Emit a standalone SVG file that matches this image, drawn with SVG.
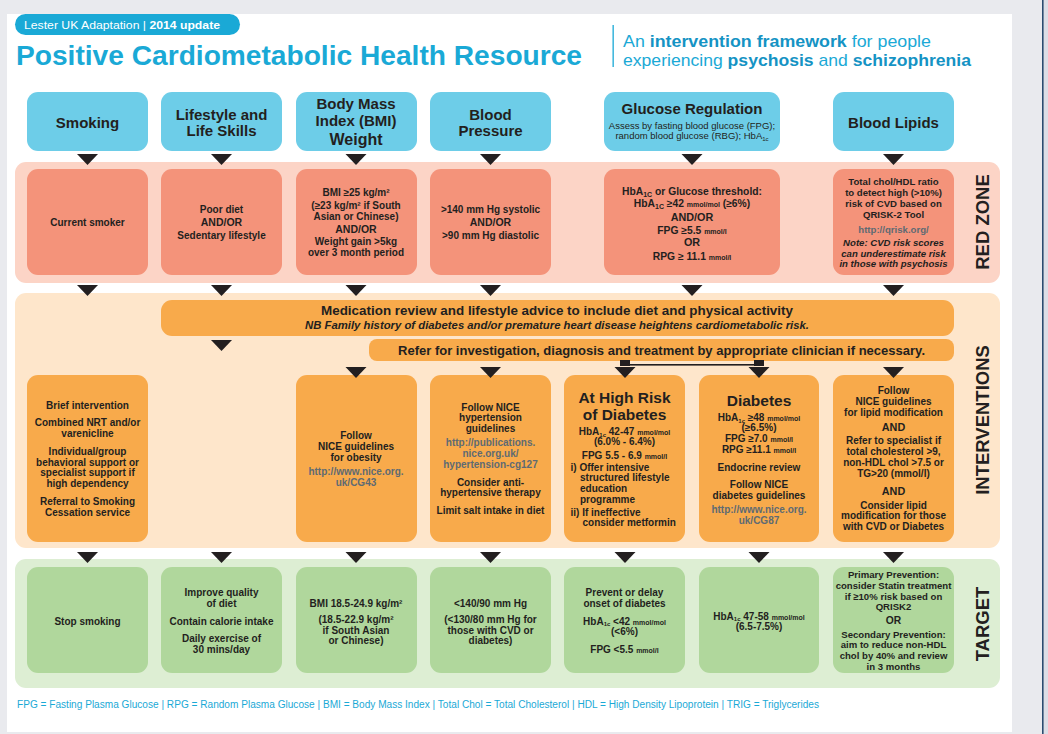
<svg xmlns="http://www.w3.org/2000/svg" width="1048" height="734" viewBox="0 0 1048 734">
<defs>
<style>
text{font-family:"Liberation Sans",Arial,sans-serif;fill:#231f20;font-weight:bold;text-anchor:middle}
.h{font-size:15px}
.s{font-size:10px}
.s9{font-size:9.6px}
.m{font-size:7px}
.u{font-size:6px}
.lk{fill:#5e6a73}
.lab{font-size:18.5px}
.hdr{fill:#6dcde8}
.rb{fill:#f4937a}
.ob{fill:#f8aa4b}
.gb{fill:#b0d79c}
.cy{fill:#1aa9d6}
</style>
<path id="tri" d="M-10.5,0 H10.5 L0,11 Z" fill="#231f20"/>
</defs>
<rect width="1048" height="734" fill="#e9eaee"/>
<rect x="1043.5" y="0" width="4.5" height="734" fill="#dcdee6"/>
<rect x="1042" y="0" width="1.6" height="734" fill="#2b4c70"/>
<rect x="7" y="14" width="1005" height="718" fill="#fff"/>

<g id="title">
<rect x="15" y="14" width="225" height="21" rx="10.5" fill="#1aa9d6"/>
<text x="24" y="29" style="font-size:11px;fill:#fff;text-anchor:start" textLength="196" lengthAdjust="spacingAndGlyphs"><tspan font-weight="normal" style="fill:#fff">Lester UK Adaptation | </tspan>2014 update</text>
<text x="16" y="64.5" class="cy" style="font-size:27px;text-anchor:start" textLength="566" lengthAdjust="spacingAndGlyphs">Positive Cardiometabolic Health Resource</text>
<rect x="612.5" y="25" width="1.3" height="42" fill="#1aa9d6"/>
<text x="623" y="46.5" style="font-size:17px;font-weight:normal;fill:#1aa9d6;text-anchor:start" textLength="308" lengthAdjust="spacingAndGlyphs">An <tspan font-weight="bold" style="fill:#1593c4">intervention framework</tspan> for people</text>
<text x="623" y="66" style="font-size:17px;font-weight:normal;fill:#1aa9d6;text-anchor:start" textLength="348" lengthAdjust="spacingAndGlyphs">experiencing <tspan font-weight="bold" style="fill:#1593c4">psychosis</tspan> and <tspan font-weight="bold" style="fill:#1593c4">schizophrenia</tspan></text>
</g>

<g id="bands">
<rect x="15" y="162" width="985" height="121" rx="11" fill="#fcd4c6"/>
<rect x="15" y="293" width="985" height="255" rx="11" fill="#fee6cb"/>
<rect x="15" y="559" width="985" height="129" rx="11" fill="#ddeed3"/>
<text transform="translate(988.5,222) rotate(-90)" class="lab">RED ZONE</text>
<text transform="translate(988.5,420) rotate(-90)" class="lab">INTERVENTIONS</text>
<text transform="translate(988.5,624) rotate(-90)" class="lab">TARGET</text>
</g>

<g id="header-smoking"><rect class="hdr" x="27" y="92" width="121" height="59" rx="11"/><text class="h" x="87.5" y="127.5">Smoking</text></g>
<g id="header-lifestyle"><rect class="hdr" x="161" y="92" width="121" height="59" rx="11"/><text class="h" x="221.5" y="120.3">Lifestyle and</text><text class="h" x="221.5" y="136">Life Skills</text></g>
<g id="header-bmi"><rect class="hdr" x="296" y="92" width="121" height="59" rx="11"/><text class="h" x="356" y="109.3">Body Mass</text><text class="h" x="356" y="126">Index (BMI)</text><text x="356" y="144.5" style="font-size:16px">Weight</text></g>
<g id="header-bp"><rect class="hdr" x="430" y="92" width="121" height="59" rx="11"/><text class="h" x="490.5" y="120.3">Blood</text><text class="h" x="490.5" y="136">Pressure</text></g>
<g id="header-glucose"><rect class="hdr" x="604" y="92" width="176" height="59" rx="11"/><text class="h" x="692" y="114.3">Glucose Regulation</text><text x="692" y="129.2" style="font-size:9.5px;font-weight:normal">Assess by fasting blood glucose (FPG);</text><text x="692" y="139.2" style="font-size:9.5px;font-weight:normal">random blood glucose (RBG); HbA<tspan class="u" dy="1.5">1c</tspan></text></g>
<g id="header-lipids"><rect class="hdr" x="833" y="92" width="121" height="59" rx="11"/><text class="h" x="893.5" y="128">Blood Lipids</text></g>

<g id="red-smoking"><rect class="rb" x="27" y="169" width="121" height="106" rx="11"/><text class="s" x="87.5" y="225.5">Current smoker</text></g>
<g id="red-lifestyle"><rect class="rb" x="161" y="169" width="121" height="106" rx="11"/><text class="s" x="221.5" y="212.5">Poor diet</text><text x="221.5" y="225.8" style="font-size:10.5px">AND/OR</text><text class="s" x="221.5" y="239.2">Sedentary lifestyle</text></g>
<g id="red-bmi"><rect class="rb" x="296" y="169" width="121" height="106" rx="11"/><text class="s" x="356" y="196.2">BMI ≥25 kg/m²</text><text class="s" x="356" y="209.2">(≥23 kg/m² if South</text><text class="s" x="356" y="219.9">Asian or Chinese)</text><text x="356" y="232.5" style="font-size:10.5px">AND/OR</text><text class="s" x="356" y="244.6">Weight gain &gt;5kg</text><text class="s" x="356" y="255.9">over 3 month period</text></g>
<g id="red-bp"><rect class="rb" x="430" y="169" width="121" height="106" rx="11"/><text class="s" x="490.5" y="213.2">&gt;140 mm Hg systolic</text><text x="490.5" y="226" style="font-size:10.5px">AND/OR</text><text class="s" x="490.5" y="239.2">&gt;90 mm Hg diastolic</text></g>
<g id="red-glucose"><rect class="rb" x="604" y="169" width="176" height="106" rx="11"/>
<text x="692" y="195.4" style="font-size:10.3px">HbA<tspan class="m" dy="1.5">1C</tspan><tspan dy="-1.5"> or Glucose threshold:</tspan></text>
<text x="692" y="207.4" style="font-size:10.3px">HbA<tspan class="m" dy="1.5">1C</tspan><tspan dy="-1.5"> ≥42 </tspan><tspan class="m">mmol/mol</tspan> (≥6%)</text>
<text x="692" y="220.6" style="font-size:10.8px">AND/OR</text>
<text x="692" y="233.6" style="font-size:10.3px">FPG ≥5.5 <tspan class="m">mmol/l</tspan></text>
<text x="692" y="246.1" style="font-size:10.8px">OR</text>
<text x="692" y="259.6" style="font-size:10.3px">RPG ≥ 11.1 <tspan class="m">mmol/l</tspan></text></g>
<g id="red-lipids"><rect class="rb" x="833" y="169" width="121" height="106" rx="11"/>
<text class="s9" x="893.5" y="185">Total chol/HDL ratio</text><text class="s9" x="893.5" y="195.6">to detect high (&gt;10%)</text><text class="s9" x="893.5" y="207">risk of CVD based on</text><text class="s9" x="893.5" y="217.7">QRISK-2 Tool</text>
<text class="s9 lk" x="893.5" y="232.5">http://qrisk.org/</text>
<text class="s9" x="893.5" y="246" font-style="italic">Note: CVD risk scores</text><text class="s9" x="893.5" y="256.7" font-style="italic">can underestimate risk</text><text class="s9" x="893.5" y="267" font-style="italic">in those with psychosis</text></g>

<g id="bar-medication"><rect class="ob" x="161" y="300" width="793" height="36" rx="11"/>
<text x="557" y="314.8" style="font-size:13.5px" textLength="472" lengthAdjust="spacingAndGlyphs">Medication review and lifestyle advice to include diet and physical activity</text>
<text x="557" y="328.7" style="font-size:10.5px" font-style="italic" textLength="504" lengthAdjust="spacingAndGlyphs">NB<tspan font-weight="bold"> Family history of diabetes and/or premature heart disease heightens cardiometabolic risk.</tspan></text></g>
<g id="bar-refer"><rect class="ob" x="369" y="339" width="585" height="22" rx="8"/>
<text x="661.5" y="354.6" style="font-size:13px" textLength="527" lengthAdjust="spacingAndGlyphs">Refer for investigation, diagnosis and treatment by appropriate clinician if necessary.</text></g>

<g id="int-smoking"><rect class="ob" x="27" y="375" width="121" height="167" rx="11"/>
<text class="s" x="87.5" y="409.2">Brief intervention</text>
<text class="s" x="87.5" y="425.9">Combined NRT and/or</text><text class="s" x="87.5" y="436.9">varenicline</text>
<text class="s" x="87.5" y="455.2">Individual/group</text><text class="s" x="87.5" y="465.9">behavioral support or</text><text class="s" x="87.5" y="476.2">specialist support if</text><text class="s" x="87.5" y="487.2">high dependency</text>
<text class="s" x="87.5" y="505.2">Referral to Smoking</text><text class="s" x="87.5" y="516.2">Cessation service</text></g>
<g id="int-bmi"><rect class="ob" x="296" y="375" width="121" height="167" rx="11"/>
<text class="s" x="356" y="439.2">Follow</text><text class="s" x="356" y="450.2">NICE guidelines</text><text class="s" x="356" y="460.9">for obesity</text>
<text class="s lk" x="356" y="475.2">http://www.nice.org.</text><text class="s lk" x="356" y="486.2">uk/CG43</text></g>
<g id="int-bp"><rect class="ob" x="430" y="375" width="121" height="167" rx="11"/>
<text class="s" x="490.5" y="410.9">Follow NICE</text><text class="s" x="490.5" y="421.2">hypertension</text><text class="s" x="490.5" y="432.2">guidelines</text>
<text class="s lk" x="490.5" y="445.9">http://publications.</text><text class="s lk" x="490.5" y="456.9">nice.org.uk/</text><text class="s lk" x="490.5" y="467.9">hypertension-cg127</text>
<text class="s" x="490.5" y="485.9">Consider anti-</text><text class="s" x="490.5" y="496.2">hypertensive therapy</text>
<text class="s" x="490.5" y="514.2">Limit salt intake in diet</text></g>
<g id="int-highrisk"><rect class="ob" x="564" y="375" width="121" height="167" rx="11"/>
<text x="624.5" y="403.3" style="font-size:15.5px">At High Risk</text><text x="624.5" y="419.5" style="font-size:15.5px">of Diabetes</text>
<text class="s" x="624.5" y="435.2">HbA<tspan class="u" dy="1.5">1c</tspan><tspan dy="-1.5"> 42-47 </tspan><tspan class="m">mmol/mol</tspan></text>
<text class="s" x="624.5" y="445.2">(6.0% - 6.4%)</text>
<text class="s" x="624.5" y="458.7">FPG 5.5 - 6.9 <tspan class="m">mmol/l</tspan></text>
<text class="s" x="570.5" y="471.2" style="text-anchor:start">i) Offer intensive</text>
<text class="s" x="580" y="481.4" style="text-anchor:start">structured lifestyle</text>
<text class="s" x="580" y="491.7" style="text-anchor:start">education</text>
<text class="s" x="580" y="503.2" style="text-anchor:start">programme</text>
<text class="s" x="570.5" y="516.2" style="text-anchor:start">ii) If ineffective</text>
<text class="s" x="582.5" y="526.2" style="text-anchor:start">consider metformin</text></g>
<g id="int-diabetes"><rect class="ob" x="699" y="375" width="120" height="167" rx="11"/>
<text x="759" y="405.5" style="font-size:15.5px">Diabetes</text>
<text class="s" x="759" y="421.2">HbA<tspan class="u" dy="1.5">1c</tspan><tspan dy="-1.5"> ≥48 </tspan><tspan class="m">mmol/mol</tspan></text>
<text class="s" x="759" y="431.2">(≥6.5%)</text>
<text class="s" x="759" y="442.2">FPG ≥7.0 <tspan class="m">mmol/l</tspan></text>
<text class="s" x="759" y="452.9">RPG ≥11.1 <tspan class="m">mmol/l</tspan></text>
<text class="s" x="759" y="470.9">Endocrine review</text>
<text class="s" x="759" y="488.2">Follow NICE</text><text class="s" x="759" y="499.2">diabetes guidelines</text>
<text class="s lk" x="759" y="513.2">http://www.nice.org.</text><text class="s lk" x="759" y="523.9">uk/CG87</text></g>
<g id="int-lipids"><rect class="ob" x="833" y="375" width="121" height="167" rx="11"/>
<text class="s" x="893.5" y="394.2">Follow</text><text class="s" x="893.5" y="405.2">NICE guidelines</text><text class="s" x="893.5" y="415.9">for lipid modification</text>
<text x="893.5" y="430.6" style="font-size:10.8px">AND</text>
<text class="s" x="893.5" y="444.2">Refer to specialist if</text><text class="s" x="893.5" y="455.2">total cholesterol &gt;9,</text><text class="s" x="893.5" y="466.2">non-HDL chol &gt;7.5 or</text><text class="s" x="893.5" y="477.2">TG&gt;20 (mmol/l)</text>
<text x="893.5" y="494.6" style="font-size:10.8px">AND</text>
<text class="s" x="893.5" y="509.2">Consider lipid</text><text class="s" x="893.5" y="519.2">modification for those</text><text class="s" x="893.5" y="530.2">with CVD or Diabetes</text></g>

<g id="tgt-smoking"><rect class="gb" x="27" y="567" width="121" height="106" rx="11"/><text class="s" x="87.5" y="624.5">Stop smoking</text></g>
<g id="tgt-lifestyle"><rect class="gb" x="161" y="567" width="121" height="106" rx="11"/>
<text class="s" x="221.5" y="596.2">Improve quality</text><text class="s" x="221.5" y="606.9">of diet</text><text class="s" x="221.5" y="624.5">Contain calorie intake</text><text class="s" x="221.5" y="641.9">Daily exercise of</text><text class="s" x="221.5" y="652.6">30 mins/day</text></g>
<g id="tgt-bmi"><rect class="gb" x="296" y="567" width="121" height="106" rx="11"/>
<text class="s" x="356" y="606.6">BMI 18.5-24.9 kg/m²</text><text class="s" x="356" y="622.6">(18.5-22.9 kg/m²</text><text class="s" x="356" y="633.6">if South Asian</text><text class="s" x="356" y="643.8">or Chinese)</text></g>
<g id="tgt-bp"><rect class="gb" x="430" y="567" width="121" height="106" rx="11"/>
<text class="s" x="490.5" y="606.6">&lt;140/90 mm Hg</text><text class="s" x="490.5" y="622.6">(&lt;130/80 mm Hg for</text><text class="s" x="490.5" y="633.6">those with CVD or</text><text class="s" x="490.5" y="643.8">diabetes)</text></g>
<g id="tgt-highrisk"><rect class="gb" x="564" y="567" width="121" height="106" rx="11"/>
<text class="s" x="624.5" y="596.2">Prevent or delay</text><text class="s" x="624.5" y="606.9">onset of diabetes</text>
<text class="s" x="624.5" y="624.6">HbA<tspan class="u" dy="1.5">1c</tspan><tspan dy="-1.5"> &lt;42 </tspan><tspan class="m">mmol/mol</tspan></text>
<text class="s" x="624.5" y="635.2">(&lt;6%)</text>
<text class="s" x="624.5" y="652.6">FPG &lt;5.5 <tspan class="m">mmol/l</tspan></text></g>
<g id="tgt-diabetes"><rect class="gb" x="699" y="567" width="120" height="106" rx="11"/>
<text class="s" x="759" y="619.6">HbA<tspan class="u" dy="1.5">1c</tspan><tspan dy="-1.5"> 47-58 </tspan><tspan class="m">mmol/mol</tspan></text>
<text class="s" x="759" y="630.2">(6.5-7.5%)</text></g>
<g id="tgt-lipids"><rect class="gb" x="833" y="567" width="121" height="106" rx="11"/>
<text class="s9" x="893.5" y="578.4">Primary Prevention:</text><text class="s9" x="893.5" y="589">consider Statin treatment</text><text class="s9" x="893.5" y="600">if ≥10% risk based on</text><text class="s9" x="893.5" y="610">QRISK2</text>
<text x="893.5" y="624.3" style="font-size:10.3px">OR</text>
<text class="s9" x="893.5" y="638.4">Secondary Prevention:</text><text class="s9" x="893.5" y="648.4">aim to reduce non-HDL</text><text class="s9" x="893.5" y="659.4">chol by 40% and review</text><text class="s9" x="893.5" y="670">in 3 months</text></g>

<g id="connectors">
<use href="#tri" x="87.5" y="154"/><use href="#tri" x="221.5" y="154"/><use href="#tri" x="356" y="154"/><use href="#tri" x="490.5" y="154"/><use href="#tri" x="692" y="154"/><use href="#tri" x="893.5" y="154"/>
<use href="#tri" x="87.5" y="285"/><use href="#tri" x="221.5" y="285"/><use href="#tri" x="356" y="285"/><use href="#tri" x="490.5" y="285"/><use href="#tri" x="692" y="285"/><use href="#tri" x="893.5" y="285"/>
<use href="#tri" x="221.5" y="340"/>
<use href="#tri" x="356" y="367"/><use href="#tri" x="490.5" y="367"/><use href="#tri" x="625" y="367"/><use href="#tri" x="759" y="367"/><use href="#tri" x="893.5" y="367"/>
<rect x="620" y="360" width="10" height="6" fill="#231f20"/><rect x="754" y="360" width="10" height="6" fill="#231f20"/>
<rect x="630" y="364" width="124" height="1.6" fill="#231f20"/>
<use href="#tri" x="87.5" y="552"/><use href="#tri" x="221.5" y="552"/><use href="#tri" x="356" y="552"/><use href="#tri" x="490.5" y="552"/><use href="#tri" x="625" y="552"/><use href="#tri" x="759" y="552"/><use href="#tri" x="893.5" y="552"/>
</g>

<g id="footer">
<text x="17" y="708" style="font-size:10px;font-weight:normal;fill:#1aa9d6;text-anchor:start" textLength="802" lengthAdjust="spacingAndGlyphs">FPG = Fasting Plasma Glucose | RPG = Random Plasma Glucose | BMI = Body Mass Index | Total Chol = Total Cholesterol | HDL = High Density Lipoprotein | TRIG = Triglycerides</text>
</g>
</svg>
